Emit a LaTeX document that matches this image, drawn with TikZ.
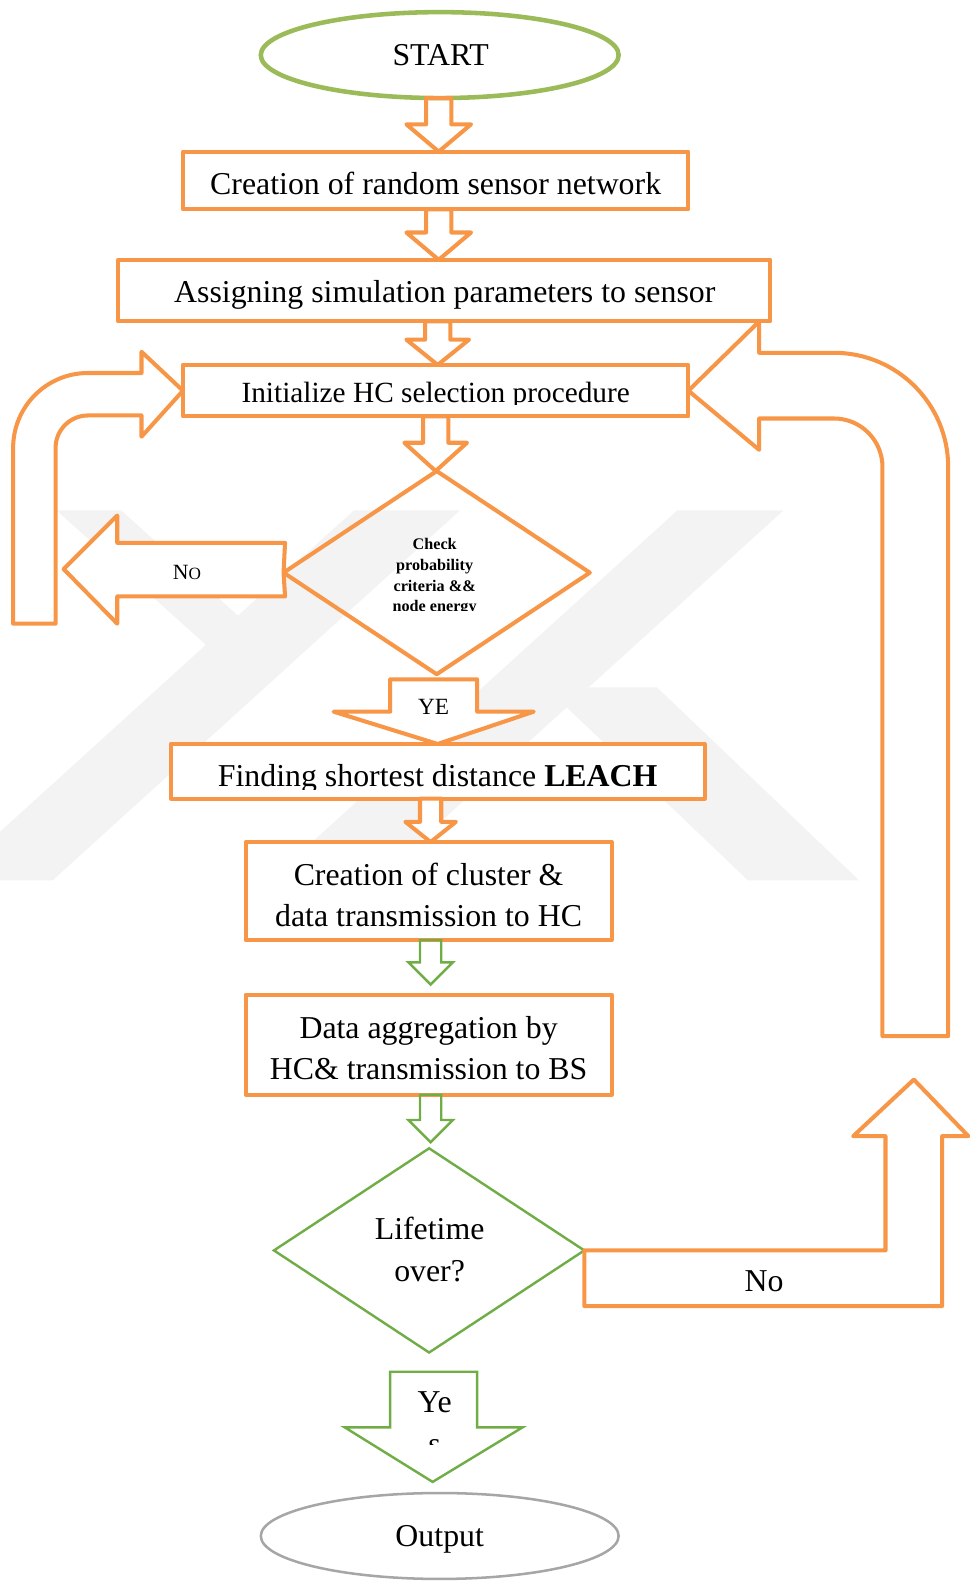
\documentclass[tikz,border=0pt]{standalone}
\usepackage{fontspec}
\setmainfont{Liberation Serif}
\usetikzlibrary{shapes.geometric,calc}
\definecolor{orng}{RGB}{247,150,70}
\definecolor{lgreen}{RGB}{155,187,89}
\definecolor{dgreen}{RGB}{112,173,71}
\definecolor{gry}{RGB}{166,166,166}
\definecolor{wmark}{RGB}{243,243,243}
\newcommand\vblock[7]{%
  \draw[#1] let \p1=(#3), \p2=(#4) in
   (#2pt-#5pt,\y1) -- (#2pt-#5pt,\y2+#7pt) -- (#2pt-#6pt,\y2+#7pt) -- (#2pt,\y2)
   -- (#2pt+#6pt,\y2+#7pt) -- (#2pt+#5pt,\y2+#7pt) -- (#2pt+#5pt,\y1) -- cycle;}
\tikzset{
  ob/.style={draw=orng, line width=4pt, line join=round, inner sep=0pt, outer sep=0pt},
  obox/.style={ob, rectangle},
  oarr/.style={draw=orng, line width=4pt, line join=round},
  garr/.style={draw=dgreen, line width=2.4pt, line join=miter},
  wm/.style={fill=wmark, draw=none},
  txt/.style={anchor=base, inner sep=0pt, outer sep=0pt, font=\fontsize{31.5}{38}\selectfont},
  midtxt/.style={anchor=base, inner sep=0pt, outer sep=0pt, font=\fontsize{29}{35}\selectfont},
  smtxt/.style={anchor=base, inner sep=0pt, outer sep=0pt, font=\fontsize{23}{28}\selectfont},
  dtxt/.style={anchor=base, inner sep=0pt, outer sep=0pt, font=\fontsize{16}{19}\selectfont\bfseries},
}
\begin{document}
\begin{tikzpicture}[x=1pt,y=-1pt]
\useasboundingbox (0,0) rectangle (959,1568);
% ---------- faint background watermark ----------
\begin{scope}
\clip (0,500) rectangle (959,871);
\fill[wm] (56,505) -- (120,505) -- (270,640) -- (206,640) -- cycle;
\fill[wm] (350,505) -- (455,505) -- (52,871) -- (-53,871) -- cycle;
\fill[wm] (670,505) -- (775,505) -- (372,871) -- (267,871) -- cycle;
\fill[wm] (540,680) -- (650,680) -- (850,871) -- (740,871) -- cycle;
\end{scope}
% ---------- nodes ----------
\node[ellipse, draw=lgreen, line width=4.5pt, minimum width=354pt, minimum height=85pt, inner sep=0pt, outer sep=0pt] (start) at (435,54.5) {};
\node[obox, fill=white, minimum width=500pt, minimum height=57pt] (b1) at (431,178.5) {};
\node[obox, fill=white, minimum width=645pt, minimum height=61pt] (b2) at (439.5,287.5) {};
\node[obox, fill=white, minimum width=500pt, minimum height=51pt] (b3) at (431,386.5) {};
\node[ob, diamond, minimum width=303pt, minimum height=201pt] (d1) at (432,566.5) {};
\node[obox, fill=white, minimum width=528pt, minimum height=54pt] (b4) at (433,763) {};
\node[obox, fill=white, minimum width=362pt, minimum height=97pt] (b5) at (424,881.5) {};
\node[obox, fill=white, minimum width=362pt, minimum height=99pt] (b6) at (424,1033.5) {};
\node[diamond, draw=dgreen, line width=2.4pt, inner sep=0pt, outer sep=0pt, minimum width=307pt, minimum height=202pt] (d2) at (424.5,1237) {};
\node[ellipse, draw=gry, line width=2.5pt, minimum width=354pt, minimum height=85pt, inner sep=0pt, outer sep=0pt] (out) at (435,1519.5) {};
% ---------- straight block arrows ----------
\vblock{oarr}{434}{start.south}{b1.north}{12.5}{32}{27}
\vblock{oarr}{434}{b1.south}{b2.north}{12.5}{32}{27}
\vblock{oarr}{433}{b2.south}{b3.north}{12.5}{31}{25}
\vblock{oarr}{431}{b3.south}{d1.north}{12.5}{31}{28}
\vblock{oarr, fill=white}{426}{b4.south}{b5.north}{10.5}{25}{20}
\coordinate (g1tip) at (426,974);
\vblock{garr}{426}{b5.south}{g1tip}{10.5}{22}{22}
\coordinate (g2tip) at (426,1130);
\vblock{garr}{426}{b6.south}{g2tip}{10.5}{22}{22}
% YE arrow
\draw[oarr, fill=white] (386,672) -- (472,672) -- (472,704) -- (528,704) -- (b4.north) -- (330,704) -- (386,704) -- cycle;
% Yes arrow
\coordinate (ytip) at (428,1466);
\draw[garr] (386,1357) -- (472,1357) -- (472,1412) -- (517,1412) -- (ytip) -- (341,1412) -- (386,1412) -- cycle;
% left No arrow
\draw[oarr, fill=white] (d1.west) -- (282,537) -- (116,537) -- (116,510) -- (63,563) -- (116,617) -- (116,590) -- (282,590) -- cycle;
% left bent arrow back to b3
\draw[oarr] (13,617) -- (13,443) arc[start angle=180, end angle=90, radius=74pt] -- (140,369) -- (140,348) -- (b3.west) -- (140,432) -- (140,411) -- (87,411) arc[start angle=90, end angle=180, radius=32pt] -- (55,617) -- cycle;
% right No arrow (up)
\draw[oarr] (d2.east) -- (876,1237) -- (876,1124) -- (844,1124) -- (904,1068) -- (958,1124) -- (932,1124) -- (932,1292) -- (578,1292) -- cycle;
% right U-turn arrow back to b3
\draw[oarr] (b3.east) -- (751,318) -- (751,349) -- (825,349) arc[start angle=90, end angle=0, radius=113pt] -- (938,1025) -- (873,1025) -- (873,462) arc[start angle=0, end angle=90, radius=48pt] -- (751,414) -- (751,445) -- cycle;
% ---------- texts ----------
\node[txt] (tstart) at (436,65) {START};
\node[txt] (t1) at (431,192) {Creation of random sensor network};
\node[txt] (t2) at (440,299) {Assigning simulation parameters to sensor};
\begin{scope}
\clip (181,361) rectangle (681,400);
\node[midtxt] (t3) at (431,398) {Initialize HC selection procedure};
\end{scope}
\begin{scope}
\clip (350,520) rectangle (510,603.5);
\node[dtxt] (d1a) at (430,543.5) {Check};
\node[dtxt] (d1b) at (430,564.8) {probability};
\node[dtxt] (d1c) at (430,585) {criteria \&\&};
\node[dtxt] (d1d) at (430,604.7) {node energy};
\end{scope}
\node[anchor=base, inner sep=0pt, font=\fontsize{21.5}{26}\selectfont] (tno1) at (185,573.5) {N{\fontsize{17}{20}\selectfont O}};
\node[smtxt] (tye) at (429,706.5) {YE};
\begin{scope}
\clip (169,736) rectangle (697,781);
\node[txt] (t4) at (433,778) {Finding shortest distance \textbf{LEACH}};
\end{scope}
\node[txt] (t5a) at (424,876) {Creation of cluster \&};
\begin{scope}
\clip (243,880) rectangle (605,917);
\node[txt] (t5b) at (424,917) {data transmission to HC};
\end{scope}
\node[txt] (t6a) at (424,1027) {Data aggregation by};
\node[txt] (t6b) at (424,1068) {HC\& transmission to BS};
\node[txt] (t7a) at (425,1226) {Lifetime};
\node[txt] (t7b) at (425,1268) {over?};
\node[txt] (tno2) at (756,1278) {No};
\node[txt] (tyes) at (430,1397.5) {Ye};
\begin{scope}
\clip (386,1405) rectangle (472,1429);
\node[txt] (tyes2) at (430,1438.5) {s};
\end{scope}
\node[txt] (tout) at (435,1530) {Output};
\end{tikzpicture}
\end{document}
